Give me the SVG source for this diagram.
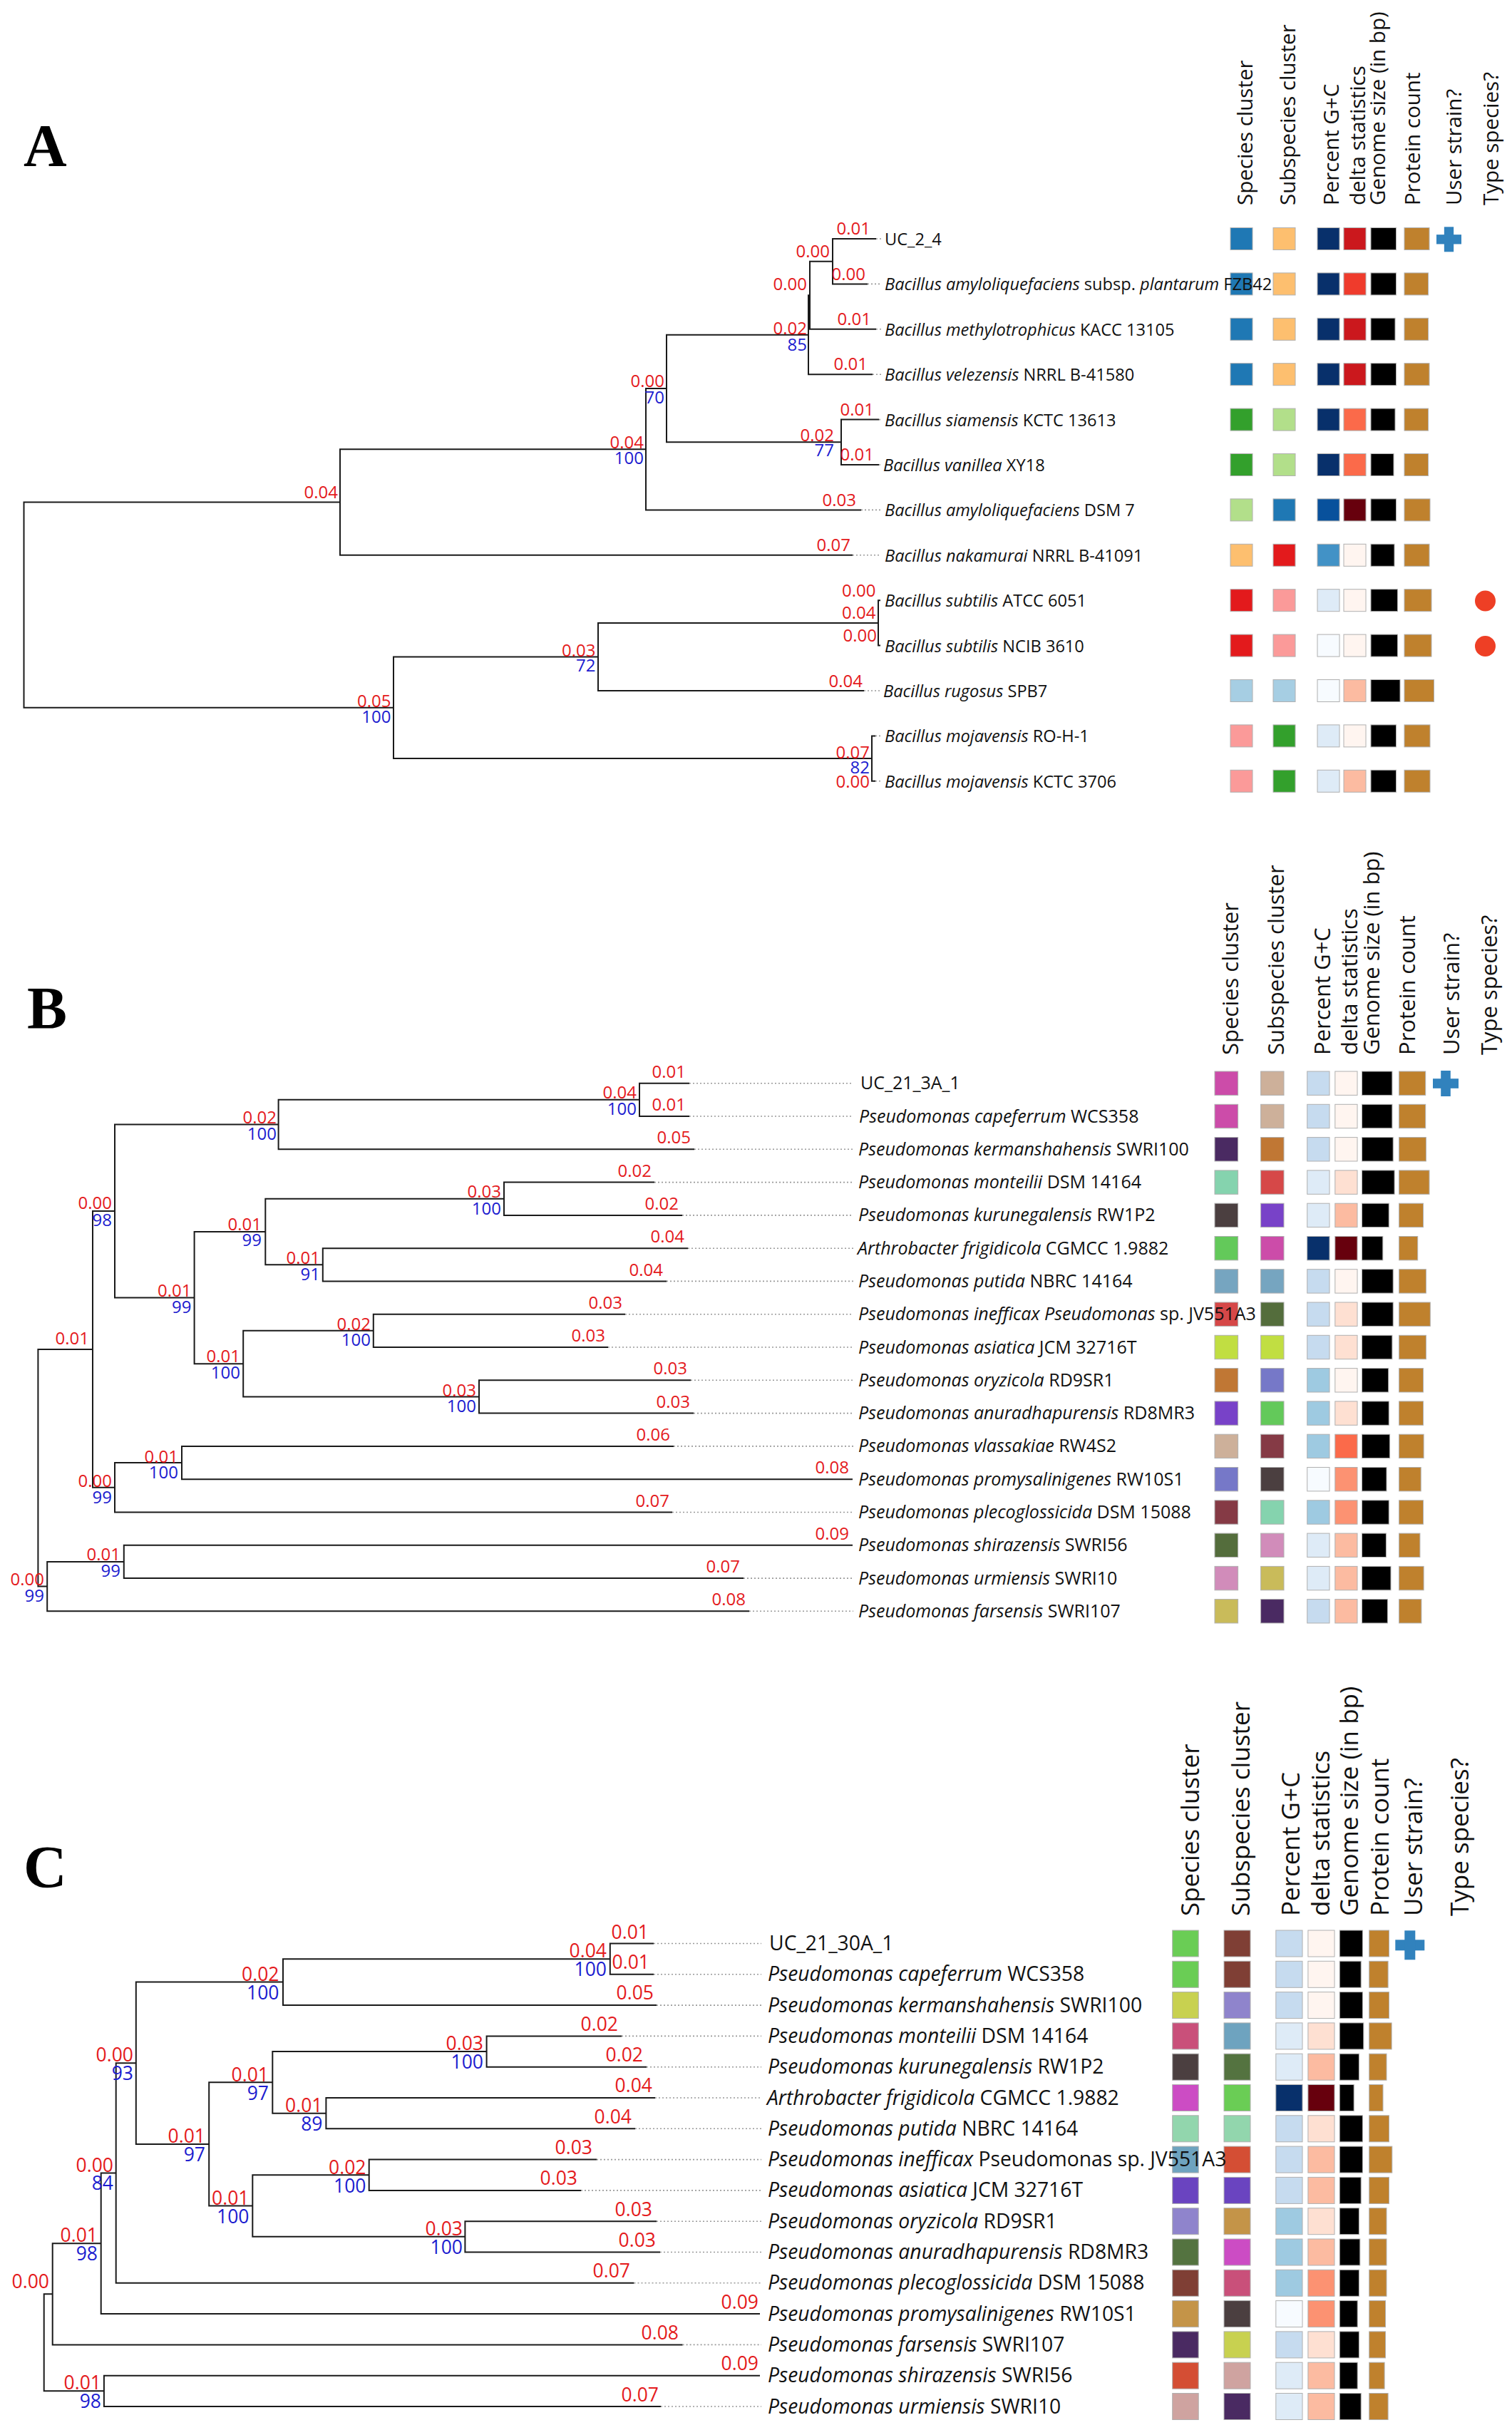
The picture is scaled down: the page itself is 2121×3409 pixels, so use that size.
<svg xmlns="http://www.w3.org/2000/svg" width="2121" height="3409" viewBox="0 0 2121 3409">
<style>
.br{fill:none;stroke:#1a1a1a;stroke-width:2}
.dt{fill:none;stroke:#9a9a9a;stroke-width:1.6;stroke-dasharray:2 3}
.t{font-family:"Open Sans","Noto Sans","DejaVu Sans",sans-serif}
.r{fill:#e41a1c;text-anchor:end}
.b{fill:#1c1ccf;text-anchor:end}
.n{fill:#111}
.i{font-style:italic}
.la{font-size:23.6px}.lb{font-size:25px}.lc{font-size:28.3px}
.na{font-size:24px}.nb{font-size:24px}.nc{font-size:26.5px}
.ha{font-size:29.5px}.hb{font-size:31px}.hc{font-size:35px}
.c rect{stroke:#b0b0b0;stroke-width:1}
.pl{font-family:"Liberation Serif","Times New Roman",serif;font-weight:bold;font-size:84px;fill:#000}
.us{fill:#3182bd}
.ts{fill:#ee3f25}
</style>
<rect width="2121" height="3409" fill="#fff"/>

<!-- ===== Panel letters ===== -->
<text class="pl" x="33" y="233">A</text>
<text class="pl" x="38" y="1443">B</text>
<text class="pl" x="33" y="2648">C</text>

<!-- ===== Headers ===== -->
<g id="header-a" class="t n ha">
<text transform="translate(1757,288) rotate(-90)">Species cluster</text>
<text transform="translate(1817,288) rotate(-90)">Subspecies cluster</text>
<text transform="translate(1878,288) rotate(-90)">Percent G+C</text>
<text transform="translate(1915,288) rotate(-90)">delta statistics</text>
<text transform="translate(1943,288) rotate(-90)">Genome size (in bp)</text>
<text transform="translate(1992,288) rotate(-90)">Protein count</text>
<text transform="translate(2050,288) rotate(-90)">User strain?</text>
<text transform="translate(2102,288) rotate(-90)">Type species?</text>
</g>
<g id="header-b" class="t n hb">
<text transform="translate(1737,1480) rotate(-90)">Species cluster</text>
<text transform="translate(1801,1480) rotate(-90)">Subspecies cluster</text>
<text transform="translate(1866,1480) rotate(-90)">Percent G+C</text>
<text transform="translate(1904,1480) rotate(-90)">delta statistics</text>
<text transform="translate(1935,1480) rotate(-90)">Genome size (in bp)</text>
<text transform="translate(1985,1480) rotate(-90)">Protein count</text>
<text transform="translate(2047,1480) rotate(-90)">User strain?</text>
<text transform="translate(2100,1480) rotate(-90)">Type species?</text>
</g>
<g id="header-c" class="t n hc">
<text transform="translate(1682,2688) rotate(-90)">Species cluster</text>
<text transform="translate(1753,2688) rotate(-90)">Subspecies cluster</text>
<text transform="translate(1823,2688) rotate(-90)">Percent G+C</text>
<text transform="translate(1865,2688) rotate(-90)">delta statistics</text>
<text transform="translate(1905,2688) rotate(-90)">Genome size (in bp)</text>
<text transform="translate(1948,2688) rotate(-90)">Protein count</text>
<text transform="translate(1995,2688) rotate(-90)">User strain?</text>
<text transform="translate(2060,2688) rotate(-90)">Type species?</text>
</g>

<!-- ===== Connectors ===== -->
<g id="connectors">
<g class="br">
<!-- A -->
<path d="M477 704.5 H33.5 V992.8 H552"/>
<path d="M906 630.2 H477 V778.8 H1196"/>
<path d="M935 545 H906 V715.4 H1208"/>
<path d="M1134 469.7 H935 V620.3 H1180"/>
<path d="M1136 414.25 H1134 V525.2 H1224"/>
<path d="M1168 366.7 H1136 V461.8 H1229"/>
<path d="M1229 335 H1168 V398.4 H1217"/>
<path d="M1233 588.6 H1180 V652 H1233"/>
<path d="M839 921.45 H552 V1064.1 H1223"/>
<path d="M1232 873.9 H839 V969 H1212"/>
<path d="M1235 842.2 H1232 V905.6 H1235"/>
<path d="M1228 1032.4 H1223 V1095.8 H1228"/>
<!-- B -->
<path d="M130 1892.95 H53.4 V2225.6 H66.2"/>
<path d="M161 1699.1 H130 V2086.8 H161"/>
<path d="M390.6 1577.6 H161 V1820.6 H272.6"/>
<path d="M897 1542.85 H390.6 V1612.3 H974"/>
<path d="M967 1519.7 H897 V1566 H967"/>
<path d="M372.3 1728 H272.6 V1913.15 H341.2"/>
<path d="M707 1681.75 H372.3 V1774.3 H452.8"/>
<path d="M918 1658.6 H707 V1704.9 H957"/>
<path d="M965 1751.2 H452.8 V1797.4 H935"/>
<path d="M523.8 1866.85 H341.2 V1959.45 H672"/>
<path d="M877 1843.7 H523.8 V1890 H853"/>
<path d="M969 1936.3 H672 V1982.6 H973"/>
<path d="M255 2052.05 H161 V2121.5 H943"/>
<path d="M945 2028.9 H255 V2075.2 H1196"/>
<path d="M173.8 2190.95 H66.2 V2260.3 H1051"/>
<path d="M1196 2167.8 H173.8 V2214.1 H1043"/>
<!-- C -->
<path d="M73.7 3218.35 H61.7 V3354.35 H145.9"/>
<path d="M141.7 3147.3 H73.7 V3289.4 H957.6"/>
<path d="M162.7 3048.55 H141.7 V3246.1 H1066"/>
<path d="M190.8 2894.3 H162.7 V3202.8 H889.5"/>
<path d="M397 2780.6 H190.8 V3007.95 H293.2"/>
<path d="M855.8 2748.15 H397 V2813.1 H921"/>
<path d="M917 2726.5 H855.8 V2769.8 H917"/>
<path d="M382.3 2921.35 H293.2 V3094.55 H354.3"/>
<path d="M682.6 2878.05 H382.3 V2964.65 H457.4"/>
<path d="M872 2856.4 H682.6 V2899.7 H907"/>
<path d="M919 2943 H457.4 V2986.3 H891"/>
<path d="M517.7 3051.25 H354.3 V3137.85 H652.4"/>
<path d="M837 3029.6 H517.7 V3072.9 H815"/>
<path d="M921 3116.2 H652.4 V3159.5 H926"/>
<path d="M1066 3332.7 H145.9 V3376 H927"/>
</g>
<g class="dt">
<!-- A leaders -->
<path d="M1229 335H1236M1217 398.4H1236M1229 461.8H1236M1224 525.2H1236M1233 588.6H1236M1233 652H1236M1208 715.4H1236M1196 778.8H1236M1212 969H1236M1228 1032.4H1236M1228 1095.8H1236"/>
<!-- B leaders -->
<path d="M967 1519.7H1197M967 1566H1197M974 1612.3H1197M918 1658.6H1197M957 1704.9H1197M965 1751.2H1197M935 1797.4H1197M877 1843.7H1197M853 1890H1197M969 1936.3H1197M973 1982.6H1197M945 2028.9H1197M943 2121.5H1197M1043 2214.1H1197M1051 2260.3H1197"/>
<!-- C leaders -->
<path d="M917 2726.5H1068M917 2769.8H1068M921 2813.1H1068M872 2856.4H1068M907 2899.7H1068M919 2943H1068M891 2986.3H1068M837 3029.6H1068M815 3072.9H1068M921 3116.2H1068M926 3159.5H1068M889.5 3202.8H1068M957.6 3289.4H1068M927 3376H1068"/>
</g>
</g>

<!-- ===== Branch labels ===== -->
<g id="branch-labels-a" class="t na">
<g class="r">
<text x="1221" y="329">0.01</text>
<text x="1214" y="392.5">0.00</text>
<text x="1222" y="455.5">0.01</text>
<text x="1217" y="519">0.01</text>
<text x="1226" y="583">0.01</text>
<text x="1226" y="646">0.01</text>
<text x="1201" y="709.5">0.03</text>
<text x="1193" y="773">0.07</text>
<text x="1228.5" y="837">0.00</text>
<text x="1228.5" y="868">0.04</text>
<text x="1230" y="900">0.00</text>
<text x="1210" y="964">0.04</text>
<text x="1220" y="1064">0.07</text>
<text x="1220" y="1105">0.00</text>
<text x="1164" y="360.6">0.00</text>
<text x="1132" y="407.3">0.00</text>
<text x="1132" y="469">0.02</text>
<text x="1170" y="618.5">0.02</text>
<text x="932" y="543">0.00</text>
<text x="903" y="629">0.04</text>
<text x="474" y="699">0.04</text>
<text x="548.5" y="991.5">0.05</text>
<text x="835.5" y="921">0.03</text>
</g>
<g class="b">
<text x="1220" y="1085">82</text>
<text x="1132" y="492">85</text>
<text x="1170" y="640.4">77</text>
<text x="932" y="566">70</text>
<text x="903" y="651">100</text>
<text x="548.5" y="1014">100</text>
<text x="835.5" y="942">72</text>
</g>
</g>

<g id="branch-labels-b" class="t nb">
<g class="r">
<text x="962" y="1511.7">0.01</text>
<text x="962" y="1558">0.01</text>
<text x="969" y="1604.3">0.05</text>
<text x="914" y="1651">0.02</text>
<text x="952" y="1697">0.02</text>
<text x="960" y="1743">0.04</text>
<text x="930" y="1789.5">0.04</text>
<text x="873" y="1836">0.03</text>
<text x="849" y="1882">0.03</text>
<text x="964" y="1928">0.03</text>
<text x="968" y="1975">0.03</text>
<text x="940" y="2021">0.06</text>
<text x="1191" y="2067">0.08</text>
<text x="939" y="2113.5">0.07</text>
<text x="1191" y="2159.5">0.09</text>
<text x="1038" y="2206">0.07</text>
<text x="1046" y="2252">0.08</text>
<text x="893" y="1540.5">0.04</text>
<text x="388" y="1576">0.02</text>
<text x="157" y="1696">0.00</text>
<text x="268.5" y="1818.5">0.01</text>
<text x="367" y="1726">0.01</text>
<text x="703" y="1680">0.03</text>
<text x="449" y="1773">0.01</text>
<text x="337" y="1911">0.01</text>
<text x="520" y="1865.5">0.02</text>
<text x="668" y="1958.5">0.03</text>
<text x="125" y="1885.5">0.01</text>
<text x="157" y="2086">0.00</text>
<text x="250" y="2051.5">0.01</text>
<text x="169" y="2189">0.01</text>
<text x="62" y="2224">0.00</text>
</g>
<g class="b">
<text x="893" y="1563.5">100</text>
<text x="388" y="1599">100</text>
<text x="157" y="1719.5">98</text>
<text x="268.5" y="1842">99</text>
<text x="367" y="1748">99</text>
<text x="703" y="1704">100</text>
<text x="449" y="1796">91</text>
<text x="337" y="1934">100</text>
<text x="520" y="1888">100</text>
<text x="668" y="1981">100</text>
<text x="157" y="2109">99</text>
<text x="250" y="2074">100</text>
<text x="169" y="2211.5">99</text>
<text x="62" y="2246.5">99</text>
</g>
</g>

<g id="branch-labels-c" class="t nc">
<g class="r">
<text x="910" y="2719.5">0.01</text>
<text x="911" y="2762">0.01</text>
<text x="917" y="2805">0.05</text>
<text x="867" y="2849">0.02</text>
<text x="902" y="2892">0.02</text>
<text x="915" y="2935">0.04</text>
<text x="886" y="2979">0.04</text>
<text x="831" y="3022">0.03</text>
<text x="810" y="3065">0.03</text>
<text x="915" y="3109">0.03</text>
<text x="920" y="3152">0.03</text>
<text x="884" y="3195">0.07</text>
<text x="1064" y="3238.5">0.09</text>
<text x="952" y="3282">0.08</text>
<text x="1064" y="3325">0.09</text>
<text x="924" y="3368.5">0.07</text>
<text x="851" y="2746">0.04</text>
<text x="391.5" y="2779">0.02</text>
<text x="678" y="2876">0.03</text>
<text x="452.5" y="2963">0.01</text>
<text x="377" y="2920">0.01</text>
<text x="513.5" y="3050">0.02</text>
<text x="649" y="3136">0.03</text>
<text x="349.5" y="3093">0.01</text>
<text x="288" y="3006">0.01</text>
<text x="187" y="2892">0.00</text>
<text x="159" y="3047">0.00</text>
<text x="137" y="3145">0.01</text>
<text x="69" y="3210">0.00</text>
<text x="142" y="3352">0.01</text>
</g>
<g class="b">
<text x="851" y="2772">100</text>
<text x="391.5" y="2804.6">100</text>
<text x="678" y="2902">100</text>
<text x="452.5" y="2989">89</text>
<text x="377" y="2945.5">97</text>
<text x="513.5" y="3075.5">100</text>
<text x="649" y="3162">100</text>
<text x="349.5" y="3118.5">100</text>
<text x="288" y="3032">97</text>
<text x="187" y="2918">93</text>
<text x="159" y="3072">84</text>
<text x="137" y="3171">98</text>
<text x="142" y="3378">98</text>
</g>
</g>

<!-- ===== Panel A leaves ===== -->
<g id="panel-a-leaves">
<g id="a-leaf-0" class="c">
<rect x="1726" y="319.5" width="31" height="31" fill="#1f78b4"/><rect x="1786" y="319.5" width="31" height="31" fill="#fdbf6f"/><rect x="1848" y="319.5" width="31" height="31" fill="#08306b"/><rect x="1885" y="319.5" width="31" height="31" fill="#cb181d"/><rect x="1923" y="319.5" width="35.5" height="31" fill="#000"/><rect x="1970" y="319.5" width="35" height="31" fill="#bf812d"/>
<text class="t n la" x="1241" y="344">UC_2_4</text>
</g>
<g id="a-leaf-1" class="c">
<rect x="1726" y="382.9" width="31" height="31" fill="#1f78b4"/><rect x="1786" y="382.9" width="31" height="31" fill="#fdbf6f"/><rect x="1848" y="382.9" width="31" height="31" fill="#08306b"/><rect x="1885" y="382.9" width="31" height="31" fill="#ef3b2c"/><rect x="1923" y="382.9" width="35.5" height="31" fill="#000"/><rect x="1970" y="382.9" width="33.5" height="31" fill="#bf812d"/>
<text class="t n la" x="1241" y="407.4"><tspan class="i">Bacillus amyloliquefaciens</tspan> subsp. <tspan class="i">plantarum</tspan> FZB42</text>
</g>
<g id="a-leaf-2" class="c">
<rect x="1726" y="446.3" width="31" height="31" fill="#1f78b4"/><rect x="1786" y="446.3" width="31" height="31" fill="#fdbf6f"/><rect x="1848" y="446.3" width="31" height="31" fill="#08306b"/><rect x="1885" y="446.3" width="31" height="31" fill="#cb181d"/><rect x="1923" y="446.3" width="34" height="31" fill="#000"/><rect x="1970" y="446.3" width="33.5" height="31" fill="#bf812d"/>
<text class="t n la" x="1241" y="470.8"><tspan class="i">Bacillus methylotrophicus</tspan> KACC 13105</text>
</g>
<g id="a-leaf-3" class="c">
<rect x="1726" y="509.7" width="31" height="31" fill="#1f78b4"/><rect x="1786" y="509.7" width="31" height="31" fill="#fdbf6f"/><rect x="1848" y="509.7" width="31" height="31" fill="#08306b"/><rect x="1885" y="509.7" width="31" height="31" fill="#cb181d"/><rect x="1923" y="509.7" width="35.5" height="31" fill="#000"/><rect x="1970" y="509.7" width="35" height="31" fill="#bf812d"/>
<text class="t n la" x="1241" y="534.2"><tspan class="i">Bacillus velezensis</tspan> NRRL B-41580</text>
</g>
<g id="a-leaf-4" class="c">
<rect x="1726" y="573.1" width="31" height="31" fill="#33a02c"/><rect x="1786" y="573.1" width="31" height="31" fill="#b2df8a"/><rect x="1848" y="573.1" width="31" height="31" fill="#08306b"/><rect x="1885" y="573.1" width="31" height="31" fill="#fb6a4a"/><rect x="1923" y="573.1" width="34" height="31" fill="#000"/><rect x="1970" y="573.1" width="33.5" height="31" fill="#bf812d"/>
<text class="t n la" x="1241" y="597.6"><tspan class="i">Bacillus siamensis</tspan> KCTC 13613</text>
</g>
<g id="a-leaf-5" class="c">
<rect x="1726" y="636.5" width="31" height="31" fill="#33a02c"/><rect x="1786" y="636.5" width="31" height="31" fill="#b2df8a"/><rect x="1848" y="636.5" width="31" height="31" fill="#08306b"/><rect x="1885" y="636.5" width="31" height="31" fill="#fb6a4a"/><rect x="1923" y="636.5" width="32" height="31" fill="#000"/><rect x="1970" y="636.5" width="33.5" height="31" fill="#bf812d"/>
<text class="t n la" x="1239" y="661"><tspan class="i">Bacillus vanillea</tspan> XY18</text>
</g>
<g id="a-leaf-6" class="c">
<rect x="1726" y="699.9" width="31" height="31" fill="#b2df8a"/><rect x="1786" y="699.9" width="31" height="31" fill="#1f78b4"/><rect x="1848" y="699.9" width="31" height="31" fill="#08519c"/><rect x="1885" y="699.9" width="31" height="31" fill="#67000d"/><rect x="1923" y="699.9" width="35.5" height="31" fill="#000"/><rect x="1970" y="699.9" width="36" height="31" fill="#bf812d"/>
<text class="t n la" x="1241" y="724.4"><tspan class="i">Bacillus amyloliquefaciens</tspan> DSM 7</text>
</g>
<g id="a-leaf-7" class="c">
<rect x="1726" y="763.3" width="31" height="31" fill="#fdbf6f"/><rect x="1786" y="763.3" width="31" height="31" fill="#e31a1c"/><rect x="1848" y="763.3" width="31" height="31" fill="#4292c6"/><rect x="1885" y="763.3" width="31" height="31" fill="#fff5f0"/><rect x="1923" y="763.3" width="33" height="31" fill="#000"/><rect x="1970" y="763.3" width="35" height="31" fill="#bf812d"/>
<text class="t n la" x="1241" y="787.8"><tspan class="i">Bacillus nakamurai</tspan> NRRL B-41091</text>
</g>
<g id="a-leaf-8" class="c">
<rect x="1726" y="826.7" width="31" height="31" fill="#e31a1c"/><rect x="1786" y="826.7" width="31" height="31" fill="#fb9a99"/><rect x="1848" y="826.7" width="31" height="31" fill="#deebf7"/><rect x="1885" y="826.7" width="31" height="31" fill="#fff5f0"/><rect x="1923" y="826.7" width="37.5" height="31" fill="#000"/><rect x="1970" y="826.7" width="38" height="31" fill="#bf812d"/>
<circle class="ts" cx="2083.5" cy="843" r="14.5" stroke="none"/>
<text class="t n la" x="1241" y="851.2"><tspan class="i">Bacillus subtilis</tspan> ATCC 6051</text>
</g>
<g id="a-leaf-9" class="c">
<rect x="1726" y="890.1" width="31" height="31" fill="#e31a1c"/><rect x="1786" y="890.1" width="31" height="31" fill="#fb9a99"/><rect x="1848" y="890.1" width="31" height="31" fill="#f7fbff"/><rect x="1885" y="890.1" width="31" height="31" fill="#fff5f0"/><rect x="1923" y="890.1" width="37.5" height="31" fill="#000"/><rect x="1970" y="890.1" width="38" height="31" fill="#bf812d"/>
<circle class="ts" cx="2083.5" cy="906.5" r="14.5" stroke="none"/>
<text class="t n la" x="1241" y="914.6"><tspan class="i">Bacillus subtilis</tspan> NCIB 3610</text>
</g>
<g id="a-leaf-10" class="c">
<rect x="1726" y="953.5" width="31" height="31" fill="#a6cee3"/><rect x="1786" y="953.5" width="31" height="31" fill="#a6cee3"/><rect x="1848" y="953.5" width="31" height="31" fill="#f7fbff"/><rect x="1885" y="953.5" width="31" height="31" fill="#fcbba1"/><rect x="1923" y="953.5" width="41" height="31" fill="#000"/><rect x="1970" y="953.5" width="41.5" height="31" fill="#bf812d"/>
<text class="t n la" x="1239" y="978"><tspan class="i">Bacillus rugosus</tspan> SPB7</text>
</g>
<g id="a-leaf-11" class="c">
<rect x="1726" y="1016.9" width="31" height="31" fill="#fb9a99"/><rect x="1786" y="1016.9" width="31" height="31" fill="#33a02c"/><rect x="1848" y="1016.9" width="31" height="31" fill="#deebf7"/><rect x="1885" y="1016.9" width="31" height="31" fill="#fff5f0"/><rect x="1923" y="1016.9" width="35.5" height="31" fill="#000"/><rect x="1970" y="1016.9" width="36" height="31" fill="#bf812d"/>
<text class="t n la" x="1241" y="1041.4"><tspan class="i">Bacillus mojavensis</tspan> RO-H-1</text>
</g>
<g id="a-leaf-12" class="c">
<rect x="1726" y="1080.3" width="31" height="31" fill="#fb9a99"/><rect x="1786" y="1080.3" width="31" height="31" fill="#33a02c"/><rect x="1848" y="1080.3" width="31" height="31" fill="#deebf7"/><rect x="1885" y="1080.3" width="31" height="31" fill="#fcbba1"/><rect x="1923" y="1080.3" width="35.5" height="31" fill="#000"/><rect x="1970" y="1080.3" width="36" height="31" fill="#bf812d"/>
<text class="t n la" x="1241" y="1104.8"><tspan class="i">Bacillus mojavensis</tspan> KCTC 3706</text>
</g>
<g id="a-user-strain" class="us"><rect x="2015" y="329.15" width="35" height="13.3"/><rect x="2025.85" y="318.3" width="13.3" height="35"/></g>
</g>

<!-- ===== Panel B leaves ===== -->
<g id="panel-b-leaves">
<g id="b-leaf-0" class="c">
<rect x="1704" y="1503" width="32.6" height="33.4" fill="#cc4ca9"/><rect x="1768.6" y="1503" width="32.4" height="33.4" fill="#cdb09a"/><rect x="1833.7" y="1503" width="31.3" height="33.4" fill="#c6dbef"/><rect x="1872.8" y="1503" width="31.2" height="33.4" fill="#fff5f0"/><rect x="1910.5" y="1503" width="42.4" height="33.4" fill="#000"/><rect x="1962.6" y="1503" width="37.1" height="33.4" fill="#bf812d"/>
<text class="t n lb" x="1207" y="1528.2">UC_21_3A_1</text>
</g>
<g id="b-leaf-1" class="c">
<rect x="1704" y="1549.3" width="32.6" height="33.4" fill="#cc4ca9"/><rect x="1768.6" y="1549.3" width="32.4" height="33.4" fill="#cdb09a"/><rect x="1833.7" y="1549.3" width="31.3" height="33.4" fill="#c6dbef"/><rect x="1872.8" y="1549.3" width="31.2" height="33.4" fill="#fff5f0"/><rect x="1910.5" y="1549.3" width="42.4" height="33.4" fill="#000"/><rect x="1962.6" y="1549.3" width="37.1" height="33.4" fill="#bf812d"/>
<text class="t n lb" x="1205" y="1574.5"><tspan class="i">Pseudomonas capeferrum</tspan> WCS358</text>
</g>
<g id="b-leaf-2" class="c">
<rect x="1704" y="1595.6" width="32.6" height="33.4" fill="#4a2a62"/><rect x="1768.6" y="1595.6" width="32.4" height="33.4" fill="#c07734"/><rect x="1833.7" y="1595.6" width="31.3" height="33.4" fill="#c6dbef"/><rect x="1872.8" y="1595.6" width="31.2" height="33.4" fill="#fff5f0"/><rect x="1910.5" y="1595.6" width="43.7" height="33.4" fill="#000"/><rect x="1962.6" y="1595.6" width="37.8" height="33.4" fill="#bf812d"/>
<text class="t n lb" x="1204" y="1620.8"><tspan class="i">Pseudomonas kermanshahensis</tspan> SWRI100</text>
</g>
<g id="b-leaf-3" class="c">
<rect x="1704" y="1641.9" width="32.6" height="33.4" fill="#85d3ae"/><rect x="1768.6" y="1641.9" width="32.4" height="33.4" fill="#d64848"/><rect x="1833.7" y="1641.9" width="31.3" height="33.4" fill="#deebf7"/><rect x="1872.8" y="1641.9" width="31.2" height="33.4" fill="#fee0d2"/><rect x="1910.5" y="1641.9" width="45.6" height="33.4" fill="#000"/><rect x="1962.6" y="1641.9" width="42.4" height="33.4" fill="#bf812d"/>
<text class="t n lb" x="1204" y="1667.1"><tspan class="i">Pseudomonas monteilii</tspan> DSM 14164</text>
</g>
<g id="b-leaf-4" class="c">
<rect x="1704" y="1688.2" width="32.6" height="33.4" fill="#4b3f40"/><rect x="1768.6" y="1688.2" width="32.4" height="33.4" fill="#7842c8"/><rect x="1833.7" y="1688.2" width="31.3" height="33.4" fill="#deebf7"/><rect x="1872.8" y="1688.2" width="31.2" height="33.4" fill="#fcbba1"/><rect x="1910.5" y="1688.2" width="37.8" height="33.4" fill="#000"/><rect x="1962.6" y="1688.2" width="33.9" height="33.4" fill="#bf812d"/>
<text class="t n lb" x="1204" y="1713.4"><tspan class="i">Pseudomonas kurunegalensis</tspan> RW1P2</text>
</g>
<g id="b-leaf-5" class="c">
<rect x="1704" y="1734.5" width="32.6" height="33.4" fill="#63c95a"/><rect x="1768.6" y="1734.5" width="32.4" height="33.4" fill="#cc4ca9"/><rect x="1833.7" y="1734.5" width="31.3" height="33.4" fill="#08306b"/><rect x="1872.8" y="1734.5" width="31.2" height="33.4" fill="#67000d"/><rect x="1910.5" y="1734.5" width="29.3" height="33.4" fill="#000"/><rect x="1962.6" y="1734.5" width="26.1" height="33.4" fill="#bf812d"/>
<text class="t n lb" x="1203" y="1759.7"><tspan class="i">Arthrobacter frigidicola</tspan> CGMCC 1.9882</text>
</g>
<g id="b-leaf-6" class="c">
<rect x="1704" y="1780.7" width="32.6" height="33.4" fill="#76a5c0"/><rect x="1768.6" y="1780.7" width="32.4" height="33.4" fill="#76a5c0"/><rect x="1833.7" y="1780.7" width="31.3" height="33.4" fill="#c6dbef"/><rect x="1872.8" y="1780.7" width="31.2" height="33.4" fill="#fff5f0"/><rect x="1910.5" y="1780.7" width="43.7" height="33.4" fill="#000"/><rect x="1962.6" y="1780.7" width="37.8" height="33.4" fill="#bf812d"/>
<text class="t n lb" x="1204" y="1805.9"><tspan class="i">Pseudomonas putida</tspan> NBRC 14164</text>
</g>
<g id="b-leaf-7" class="c">
<rect x="1704" y="1827" width="32.6" height="33.4" fill="#d64848"/><rect x="1768.6" y="1827" width="32.4" height="33.4" fill="#546d3c"/><rect x="1833.7" y="1827" width="31.3" height="33.4" fill="#c6dbef"/><rect x="1872.8" y="1827" width="31.2" height="33.4" fill="#fee0d2"/><rect x="1910.5" y="1827" width="43.7" height="33.4" fill="#000"/><rect x="1962.6" y="1827" width="43.7" height="33.4" fill="#bf812d"/>
<text class="t n lb" x="1204" y="1852.2"><tspan class="i">Pseudomonas inefficax Pseudomonas</tspan> sp. JV551A3</text>
</g>
<g id="b-leaf-8" class="c">
<rect x="1704" y="1873.3" width="32.6" height="33.4" fill="#c1de42"/><rect x="1768.6" y="1873.3" width="32.4" height="33.4" fill="#c1de42"/><rect x="1833.7" y="1873.3" width="31.3" height="33.4" fill="#c6dbef"/><rect x="1872.8" y="1873.3" width="31.2" height="33.4" fill="#fee0d2"/><rect x="1910.5" y="1873.3" width="42.4" height="33.4" fill="#000"/><rect x="1962.6" y="1873.3" width="37.8" height="33.4" fill="#bf812d"/>
<text class="t n lb" x="1204" y="1898.5"><tspan class="i">Pseudomonas asiatica</tspan> JCM 32716T</text>
</g>
<g id="b-leaf-9" class="c">
<rect x="1704" y="1919.6" width="32.6" height="33.4" fill="#c07734"/><rect x="1768.6" y="1919.6" width="32.4" height="33.4" fill="#7678c8"/><rect x="1833.7" y="1919.6" width="31.3" height="33.4" fill="#9ecae1"/><rect x="1872.8" y="1919.6" width="31.2" height="33.4" fill="#fff5f0"/><rect x="1910.5" y="1919.6" width="37.2" height="33.4" fill="#000"/><rect x="1962.6" y="1919.6" width="33.9" height="33.4" fill="#bf812d"/>
<text class="t n lb" x="1204" y="1944.8"><tspan class="i">Pseudomonas oryzicola</tspan> RD9SR1</text>
</g>
<g id="b-leaf-10" class="c">
<rect x="1704" y="1965.9" width="32.6" height="33.4" fill="#7842c8"/><rect x="1768.6" y="1965.9" width="32.4" height="33.4" fill="#63c95a"/><rect x="1833.7" y="1965.9" width="31.3" height="33.4" fill="#9ecae1"/><rect x="1872.8" y="1965.9" width="31.2" height="33.4" fill="#fee0d2"/><rect x="1910.5" y="1965.9" width="37.8" height="33.4" fill="#000"/><rect x="1962.6" y="1965.9" width="33.9" height="33.4" fill="#bf812d"/>
<text class="t n lb" x="1204" y="1991.1"><tspan class="i">Pseudomonas anuradhapurensis</tspan> RD8MR3</text>
</g>
<g id="b-leaf-11" class="c">
<rect x="1704" y="2012.2" width="32.6" height="33.4" fill="#cdb09a"/><rect x="1768.6" y="2012.2" width="32.4" height="33.4" fill="#853a45"/><rect x="1833.7" y="2012.2" width="31.3" height="33.4" fill="#9ecae1"/><rect x="1872.8" y="2012.2" width="31.2" height="33.4" fill="#fb6a4a"/><rect x="1910.5" y="2012.2" width="39.1" height="33.4" fill="#000"/><rect x="1962.6" y="2012.2" width="34.5" height="33.4" fill="#bf812d"/>
<text class="t n lb" x="1204" y="2037.4"><tspan class="i">Pseudomonas vlassakiae</tspan> RW4S2</text>
</g>
<g id="b-leaf-12" class="c">
<rect x="1704" y="2058.5" width="32.6" height="33.4" fill="#7678c8"/><rect x="1768.6" y="2058.5" width="32.4" height="33.4" fill="#4b3f40"/><rect x="1833.7" y="2058.5" width="31.3" height="33.4" fill="#f7fbff"/><rect x="1872.8" y="2058.5" width="31.2" height="33.4" fill="#fc9272"/><rect x="1910.5" y="2058.5" width="34.5" height="33.4" fill="#000"/><rect x="1962.6" y="2058.5" width="30.6" height="33.4" fill="#bf812d"/>
<text class="t n lb" x="1204" y="2083.7"><tspan class="i">Pseudomonas promysalinigenes</tspan> RW10S1</text>
</g>
<g id="b-leaf-13" class="c">
<rect x="1704" y="2104.8" width="32.6" height="33.4" fill="#853a45"/><rect x="1768.6" y="2104.8" width="32.4" height="33.4" fill="#85d3ae"/><rect x="1833.7" y="2104.8" width="31.3" height="33.4" fill="#9ecae1"/><rect x="1872.8" y="2104.8" width="31.2" height="33.4" fill="#fc9272"/><rect x="1910.5" y="2104.8" width="37.8" height="33.4" fill="#000"/><rect x="1962.6" y="2104.8" width="33.9" height="33.4" fill="#bf812d"/>
<text class="t n lb" x="1204" y="2130"><tspan class="i">Pseudomonas plecoglossicida</tspan> DSM 15088</text>
</g>
<g id="b-leaf-14" class="c">
<rect x="1704" y="2151.1" width="32.6" height="33.4" fill="#546d3c"/><rect x="1768.6" y="2151.1" width="32.4" height="33.4" fill="#d18cba"/><rect x="1833.7" y="2151.1" width="31.3" height="33.4" fill="#deebf7"/><rect x="1872.8" y="2151.1" width="31.2" height="33.4" fill="#fcbba1"/><rect x="1910.5" y="2151.1" width="33.9" height="33.4" fill="#000"/><rect x="1962.6" y="2151.1" width="29.3" height="33.4" fill="#bf812d"/>
<text class="t n lb" x="1204" y="2176.3"><tspan class="i">Pseudomonas shirazensis</tspan> SWRI56</text>
</g>
<g id="b-leaf-15" class="c">
<rect x="1704" y="2197.4" width="32.6" height="33.4" fill="#d18cba"/><rect x="1768.6" y="2197.4" width="32.4" height="33.4" fill="#c9bb5a"/><rect x="1833.7" y="2197.4" width="31.3" height="33.4" fill="#deebf7"/><rect x="1872.8" y="2197.4" width="31.2" height="33.4" fill="#fcbba1"/><rect x="1910.5" y="2197.4" width="40.5" height="33.4" fill="#000"/><rect x="1962.6" y="2197.4" width="34.5" height="33.4" fill="#bf812d"/>
<text class="t n lb" x="1204" y="2222.6"><tspan class="i">Pseudomonas urmiensis</tspan> SWRI10</text>
</g>
<g id="b-leaf-16" class="c">
<rect x="1704" y="2243.6" width="32.6" height="33.4" fill="#c9bb5a"/><rect x="1768.6" y="2243.6" width="32.4" height="33.4" fill="#4a2a62"/><rect x="1833.7" y="2243.6" width="31.3" height="33.4" fill="#c6dbef"/><rect x="1872.8" y="2243.6" width="31.2" height="33.4" fill="#fcbba1"/><rect x="1910.5" y="2243.6" width="35.9" height="33.4" fill="#000"/><rect x="1962.6" y="2243.6" width="31.3" height="33.4" fill="#bf812d"/>
<text class="t n lb" x="1204" y="2268.8"><tspan class="i">Pseudomonas farsensis</tspan> SWRI107</text>
</g>
<g id="b-user-strain" class="us"><rect x="2010" y="1513.2" width="36" height="13.6"/><rect x="2021.2" y="1502" width="13.6" height="36"/></g>
</g>

<!-- ===== Panel C leaves ===== -->
<g id="panel-c-leaves">
<g id="c-leaf-0" class="c">
<rect x="1644.7" y="2708" width="36.5" height="37" fill="#6acd55"/><rect x="1717" y="2708" width="37" height="37" fill="#7f3f35"/><rect x="1789.8" y="2708" width="37.2" height="37" fill="#c6dbef"/><rect x="1834.9" y="2708" width="37.1" height="37" fill="#fff5f0"/><rect x="1879.2" y="2708" width="32.2" height="37" fill="#000"/><rect x="1920.7" y="2708" width="27.8" height="37" fill="#bf812d"/>
<text class="t n lc" x="1079" y="2736">UC_21_30A_1</text>
</g>
<g id="c-leaf-1" class="c">
<rect x="1644.7" y="2751.3" width="36.5" height="37" fill="#6acd55"/><rect x="1717" y="2751.3" width="37" height="37" fill="#7f3f35"/><rect x="1789.8" y="2751.3" width="37.2" height="37" fill="#c6dbef"/><rect x="1834.9" y="2751.3" width="37.1" height="37" fill="#fff5f0"/><rect x="1879.2" y="2751.3" width="30" height="37" fill="#000"/><rect x="1920.7" y="2751.3" width="26.4" height="37" fill="#bf812d"/>
<text class="t n lc" x="1077" y="2779.3"><tspan class="i">Pseudomonas capeferrum</tspan> WCS358</text>
</g>
<g id="c-leaf-2" class="c">
<rect x="1644.7" y="2794.6" width="36.5" height="37" fill="#c8d150"/><rect x="1717" y="2794.6" width="37" height="37" fill="#8f84cc"/><rect x="1789.8" y="2794.6" width="37.2" height="37" fill="#c6dbef"/><rect x="1834.9" y="2794.6" width="37.1" height="37" fill="#fff5f0"/><rect x="1879.2" y="2794.6" width="32.2" height="37" fill="#000"/><rect x="1920.7" y="2794.6" width="27.8" height="37" fill="#bf812d"/>
<text class="t n lc" x="1077" y="2822.6"><tspan class="i">Pseudomonas kermanshahensis</tspan> SWRI100</text>
</g>
<g id="c-leaf-3" class="c">
<rect x="1644.7" y="2837.9" width="36.5" height="37" fill="#c9507a"/><rect x="1717" y="2837.9" width="37" height="37" fill="#6ea3bf"/><rect x="1789.8" y="2837.9" width="37.2" height="37" fill="#deebf7"/><rect x="1834.9" y="2837.9" width="37.1" height="37" fill="#fee0d2"/><rect x="1879.2" y="2837.9" width="33.6" height="37" fill="#000"/><rect x="1920.7" y="2837.9" width="31.4" height="37" fill="#bf812d"/>
<text class="t n lc" x="1077" y="2865.9"><tspan class="i">Pseudomonas monteilii</tspan> DSM 14164</text>
</g>
<g id="c-leaf-4" class="c">
<rect x="1644.7" y="2881.2" width="36.5" height="37" fill="#4b3f40"/><rect x="1717" y="2881.2" width="37" height="37" fill="#547340"/><rect x="1789.8" y="2881.2" width="37.2" height="37" fill="#deebf7"/><rect x="1834.9" y="2881.2" width="37.1" height="37" fill="#fcbba1"/><rect x="1879.2" y="2881.2" width="27.2" height="37" fill="#000"/><rect x="1920.7" y="2881.2" width="24.3" height="37" fill="#bf812d"/>
<text class="t n lc" x="1077" y="2909.2"><tspan class="i">Pseudomonas kurunegalensis</tspan> RW1P2</text>
</g>
<g id="c-leaf-5" class="c">
<rect x="1644.7" y="2924.5" width="36.5" height="37" fill="#cc4cc4"/><rect x="1717" y="2924.5" width="37" height="37" fill="#6acd55"/><rect x="1789.8" y="2924.5" width="37.2" height="37" fill="#08306b"/><rect x="1834.9" y="2924.5" width="37.1" height="37" fill="#67000d"/><rect x="1879.2" y="2924.5" width="20" height="37" fill="#000"/><rect x="1920.7" y="2924.5" width="19.3" height="37" fill="#bf812d"/>
<text class="t n lc" x="1076" y="2952.5"><tspan class="i">Arthrobacter frigidicola</tspan> CGMCC 1.9882</text>
</g>
<g id="c-leaf-6" class="c">
<rect x="1644.7" y="2967.8" width="36.5" height="37" fill="#92d6ad"/><rect x="1717" y="2967.8" width="37" height="37" fill="#92d6ad"/><rect x="1789.8" y="2967.8" width="37.2" height="37" fill="#c6dbef"/><rect x="1834.9" y="2967.8" width="37.1" height="37" fill="#fee0d2"/><rect x="1879.2" y="2967.8" width="32.2" height="37" fill="#000"/><rect x="1920.7" y="2967.8" width="27.8" height="37" fill="#bf812d"/>
<text class="t n lc" x="1077" y="2995.8"><tspan class="i">Pseudomonas putida</tspan> NBRC 14164</text>
</g>
<g id="c-leaf-7" class="c">
<rect x="1644.7" y="3011.1" width="36.5" height="37" fill="#6ea3bf"/><rect x="1717" y="3011.1" width="37" height="37" fill="#d44e34"/><rect x="1789.8" y="3011.1" width="37.2" height="37" fill="#c6dbef"/><rect x="1834.9" y="3011.1" width="37.1" height="37" fill="#fcbba1"/><rect x="1879.2" y="3011.1" width="32.2" height="37" fill="#000"/><rect x="1920.7" y="3011.1" width="32.1" height="37" fill="#bf812d"/>
<text class="t n lc" x="1077" y="3039.1"><tspan class="i">Pseudomonas inefficax</tspan> Pseudomonas sp. JV551A3</text>
</g>
<g id="c-leaf-8" class="c">
<rect x="1644.7" y="3054.4" width="36.5" height="37" fill="#6a44c0"/><rect x="1717" y="3054.4" width="37" height="37" fill="#6a44c0"/><rect x="1789.8" y="3054.4" width="37.2" height="37" fill="#c6dbef"/><rect x="1834.9" y="3054.4" width="37.1" height="37" fill="#fcbba1"/><rect x="1879.2" y="3054.4" width="30" height="37" fill="#000"/><rect x="1920.7" y="3054.4" width="27.8" height="37" fill="#bf812d"/>
<text class="t n lc" x="1077" y="3082.4"><tspan class="i">Pseudomonas asiatica</tspan> JCM 32716T</text>
</g>
<g id="c-leaf-9" class="c">
<rect x="1644.7" y="3097.7" width="36.5" height="37" fill="#8f84cc"/><rect x="1717" y="3097.7" width="37" height="37" fill="#c49448"/><rect x="1789.8" y="3097.7" width="37.2" height="37" fill="#9ecae1"/><rect x="1834.9" y="3097.7" width="37.1" height="37" fill="#fee0d2"/><rect x="1879.2" y="3097.7" width="27.2" height="37" fill="#000"/><rect x="1920.7" y="3097.7" width="24.3" height="37" fill="#bf812d"/>
<text class="t n lc" x="1077" y="3125.7"><tspan class="i">Pseudomonas oryzicola</tspan> RD9SR1</text>
</g>
<g id="c-leaf-10" class="c">
<rect x="1644.7" y="3141" width="36.5" height="37" fill="#547340"/><rect x="1717" y="3141" width="37" height="37" fill="#cc4cc4"/><rect x="1789.8" y="3141" width="37.2" height="37" fill="#9ecae1"/><rect x="1834.9" y="3141" width="37.1" height="37" fill="#fcbba1"/><rect x="1879.2" y="3141" width="28.6" height="37" fill="#000"/><rect x="1920.7" y="3141" width="24.3" height="37" fill="#bf812d"/>
<text class="t n lc" x="1077" y="3169"><tspan class="i">Pseudomonas anuradhapurensis</tspan> RD8MR3</text>
</g>
<g id="c-leaf-11" class="c">
<rect x="1644.7" y="3184.3" width="36.5" height="37" fill="#7f3f35"/><rect x="1717" y="3184.3" width="37" height="37" fill="#c9507a"/><rect x="1789.8" y="3184.3" width="37.2" height="37" fill="#9ecae1"/><rect x="1834.9" y="3184.3" width="37.1" height="37" fill="#fc9272"/><rect x="1879.2" y="3184.3" width="27.2" height="37" fill="#000"/><rect x="1920.7" y="3184.3" width="24.3" height="37" fill="#bf812d"/>
<text class="t n lc" x="1077" y="3212.3"><tspan class="i">Pseudomonas plecoglossicida</tspan> DSM 15088</text>
</g>
<g id="c-leaf-12" class="c">
<rect x="1644.7" y="3227.6" width="36.5" height="37" fill="#c49448"/><rect x="1717" y="3227.6" width="37" height="37" fill="#4b3f40"/><rect x="1789.8" y="3227.6" width="37.2" height="37" fill="#f7fbff"/><rect x="1834.9" y="3227.6" width="37.1" height="37" fill="#fc9272"/><rect x="1879.2" y="3227.6" width="25" height="37" fill="#000"/><rect x="1920.7" y="3227.6" width="22.8" height="37" fill="#bf812d"/>
<text class="t n lc" x="1077" y="3255.6"><tspan class="i">Pseudomonas promysalinigenes</tspan> RW10S1</text>
</g>
<g id="c-leaf-13" class="c">
<rect x="1644.7" y="3270.9" width="36.5" height="37" fill="#4a2a62"/><rect x="1717" y="3270.9" width="37" height="37" fill="#c8d150"/><rect x="1789.8" y="3270.9" width="37.2" height="37" fill="#c6dbef"/><rect x="1834.9" y="3270.9" width="37.1" height="37" fill="#fee0d2"/><rect x="1879.2" y="3270.9" width="27.2" height="37" fill="#000"/><rect x="1920.7" y="3270.9" width="22.8" height="37" fill="#bf812d"/>
<text class="t n lc" x="1077" y="3298.9"><tspan class="i">Pseudomonas farsensis</tspan> SWRI107</text>
</g>
<g id="c-leaf-14" class="c">
<rect x="1644.7" y="3314.2" width="36.5" height="37" fill="#d44e34"/><rect x="1717" y="3314.2" width="37" height="37" fill="#cfa3a0"/><rect x="1789.8" y="3314.2" width="37.2" height="37" fill="#deebf7"/><rect x="1834.9" y="3314.2" width="37.1" height="37" fill="#fcbba1"/><rect x="1879.2" y="3314.2" width="25" height="37" fill="#000"/><rect x="1920.7" y="3314.2" width="21.4" height="37" fill="#bf812d"/>
<text class="t n lc" x="1077" y="3342.2"><tspan class="i">Pseudomonas shirazensis</tspan> SWRI56</text>
</g>
<g id="c-leaf-15" class="c">
<rect x="1644.7" y="3357.5" width="36.5" height="37" fill="#cfa3a0"/><rect x="1717" y="3357.5" width="37" height="37" fill="#4a2a62"/><rect x="1789.8" y="3357.5" width="37.2" height="37" fill="#deebf7"/><rect x="1834.9" y="3357.5" width="37.1" height="37" fill="#fcbba1"/><rect x="1879.2" y="3357.5" width="30" height="37" fill="#000"/><rect x="1920.7" y="3357.5" width="26.4" height="37" fill="#bf812d"/>
<text class="t n lc" x="1077" y="3385.5"><tspan class="i">Pseudomonas urmiensis</tspan> SWRI10</text>
</g>
<g id="c-user-strain" class="us"><rect x="1957.3" y="2721.3" width="41" height="15"/><rect x="1970.3" y="2708.3" width="15" height="41"/></g>
</g>
</svg>
